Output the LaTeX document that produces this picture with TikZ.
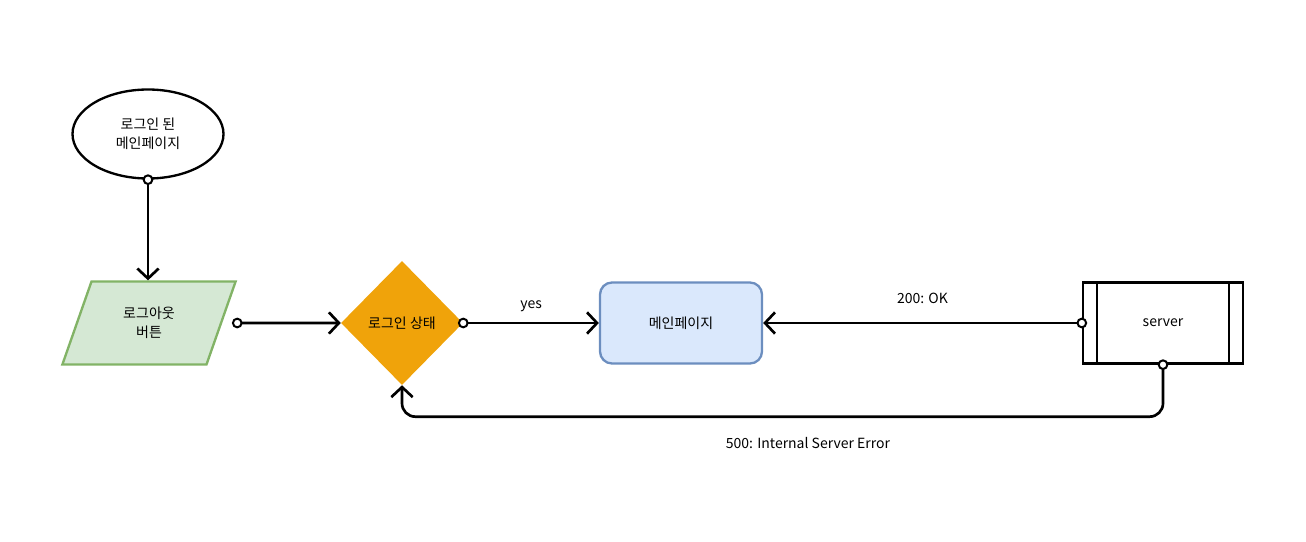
\documentclass[tikz,border=0pt]{standalone}
\usepackage{fontspec}
\setmainfont{Noto Sans CJK KR}
\usepackage{xcolor}
\usetikzlibrary{shapes.geometric,arrows.meta}

\definecolor{greenfill}{HTML}{D5E8D4}
\definecolor{greenline}{HTML}{82B366}
\definecolor{bluefill}{HTML}{DAE8FC}
\definecolor{blueline}{HTML}{6C8EBF}
\definecolor{orangefill}{HTML}{F0A30A}

\begin{document}
\begin{tikzpicture}[x=0.75pt,y=-0.75pt,
    font=\fontsize{10.5pt}{14.5pt}\selectfont,
    flow/.style={line width=2pt,
        {Circle[fill=white,length=8pt,line width=1.5pt]}-{Straight Barb[length=7.5pt,width=16pt]},
        shorten <=-4pt},
    startbox/.style={ellipse,draw,line width=1.75pt,minimum width=113.25pt,minimum height=66.75pt,align=center},
    iobox/.style={trapezium,trapezium left angle=69.5,trapezium right angle=110.5,trapezium stretches=true,
        draw=greenline,fill=greenfill,line width=1.75pt,minimum width=130.5pt,minimum height=62.25pt,align=center},
    decision/.style={diamond,fill=orangefill,minimum width=91.5pt,minimum height=93pt,inner sep=0pt},
    pagebox/.style={rectangle,rounded corners=9pt,draw=blueline,fill=bluefill,line width=1.75pt,
        minimum width=121.5pt,minimum height=60.75pt},
    procbox/.style={rectangle,draw,line width=1.75pt,minimum width=120pt,minimum height=60.75pt}]
    \useasboundingbox (0,0) rectangle (1306,542);

    % shapes
    \node[startbox] (start) at (148,134) {로그인 된\\메인페이지};
    \node[iobox] (logout) at (149,323) {로그아웃\\버튼};
    \node[decision] (state) at (402,323) {로그인 상태};
    \node[pagebox] (main) at (681,323) {메인페이지};
    \node[procbox] (server) at (1163,323) {server};
    \draw[line width=1.75pt] ([xshift=11.25pt]server.north west) -- ([xshift=11.25pt]server.south west);
    \draw[line width=1.75pt] ([xshift=-11.25pt]server.north east) -- ([xshift=-11.25pt]server.south east);

    % connectors
    \draw[flow] (start.south) -- (start.south |- logout.north);
    \draw[flow] (logout.top right corner |- logout.east) -- (state.west);
    \draw[flow] (state.east) -- node[above=4pt] (yes) {yes} (main.west);
    \draw[flow] (server.west) -- node[above=10pt] (ok) {200: OK} (main.east);
    \draw[flow,rounded corners=10pt] (server.south) -- ++(0,52) coordinate (turn) -| (state.south);
    \node (err) at (808,443) {500: Internal Server Error};
\end{tikzpicture}
\end{document}
